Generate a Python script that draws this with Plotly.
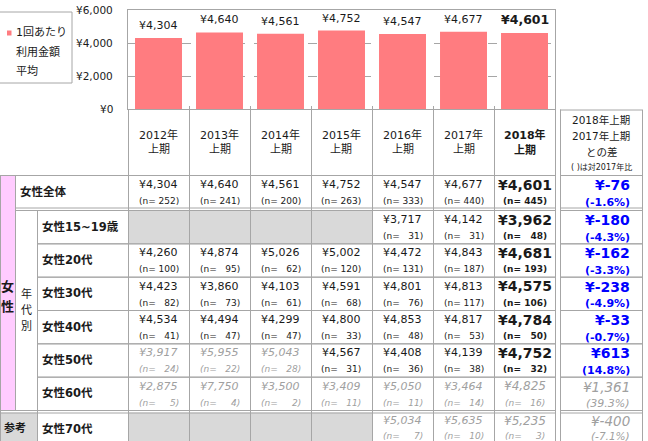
import plotly.graph_objects as go

# ---------------- data ----------------
periods = ["2012年", "2013年", "2014年", "2015年", "2016年", "2017年", "2018年"]
half_label = "上期"
avg_all = [4304, 4640, 4561, 4752, 4547, 4677, 4601]
yticks = [0, 2000, 4000, 6000]
legend_lines = ["1回あたり", "利用金額", "平均"]

row_labels = ["女性全体", "女性15~19歳", "女性20代", "女性30代", "女性40代",
              "女性50代", "女性60代", "女性70代"]

n_all = [252, 241, 200, 263, 333, 440, 445]
val_15_19 = [None, None, None, None, 3717, 4142, 3962]
n_15_19 = [None, None, None, None, 31, 31, 48]
val_20s = [4260, 4874, 5026, 5002, 4472, 4843, 4681]
n_20s = [100, 95, 62, 120, 131, 187, 193]
val_30s = [4423, 3860, 4103, 4591, 4801, 4813, 4575]
n_30s = [82, 73, 61, 68, 76, 117, 106]
val_40s = [4534, 4494, 4299, 4800, 4853, 4817, 4784]
n_40s = [41, 47, 47, 33, 48, 53, 50]
val_50s = [3917, 5955, 5043, 4567, 4408, 4139, 4752]
n_50s = [24, 22, 28, 31, 36, 38, 32]
val_60s = [2875, 7750, 3500, 3409, 5050, 3464, 4825]
n_60s = [5, 4, 2, 11, 11, 14, 16]
val_70s = [None, None, None, None, 5034, 5635, 5235]
n_70s = [None, None, None, None, 7, 10, 3]

diff_yen = [-76, -180, -162, -238, -33, 613, 1361, -400]
diff_pct = [-1.6, -4.3, -3.3, -4.9, -0.7, 14.8, 39.3, -7.1]
diff_header = ["2018年上期", "2017年上期", "との差"]
diff_note = "( )は対2017年比"
small_sample = 30  # n below this is shown in grey italics

rows_values = [avg_all, val_15_19, val_20s, val_30s, val_40s, val_50s, val_60s, val_70s]
rows_n = [n_all, n_15_19, n_20s, n_30s, n_40s, n_50s, n_60s, n_70s]

# ---------------- layout helpers ----------------
W, H = 648, 441
FONT = "DejaVu Sans, Noto Sans CJK JP, sans-serif"
LC = "#A6A6A6"
BAR = "#FF7C80"
BLACK = "#1a1a1a"
GREY = "#A0A0A0"
BLUE = "#0000FF"
PINK = "#FFCCFF"
FILLG = "#D9D9D9"


def X(px):
    return px / W


def Y(py):
    return 1 - py / H


COL_X0, COL_W, NCOL = 128, 61, 7
col_edges = [COL_X0 + i * COL_W for i in range(NCOL + 1)]
TABLE_R = col_edges[-1]
DIFF_L, DIFF_R = 560, 642
PLOT_TOP, HEAD_TOP, HEAD_BOT = 10, 109, 175
rh = (410 - 210) / 6
rows = [(175, 207.5)] + [(210 + k * rh, 210 + (k + 1) * rh) for k in range(6)] + [(412.5, 446)]

shapes = []
ann = []


def rect(x0, y0, x1, y1, fill, line=None):
    shapes.append(dict(type="rect", xref="paper", yref="paper", x0=X(x0), x1=X(x1),
                       y0=Y(y1), y1=Y(y0), fillcolor=fill, layer="below",
                       line=dict(width=1 if line else 0, color=line or fill)))


def hline(py, x0, x1):
    shapes.append(dict(type="line", xref="paper", yref="paper", x0=X(x0), x1=X(x1),
                       y0=Y(py + 0.5), y1=Y(py + 0.5), line=dict(color=LC, width=1)))


def vline(px, y0, y1):
    shapes.append(dict(type="line", xref="paper", yref="paper", x0=X(px + 0.5), x1=X(px + 0.5),
                       y0=Y(y0), y1=Y(y1), line=dict(color=LC, width=1)))


def text(px, py, s, size, color=BLACK, bold=False, italic=False, xanchor="center"):
    if bold:
        s = f"<b>{s}</b>"
    if italic:
        s = f"<i>{s}</i>"
    ann.append(dict(x=X(px), y=Y(py), xref="paper", yref="paper", text=s, showarrow=False,
                    xanchor=xanchor, yanchor="middle",
                    font=dict(size=size, color=color, family=FONT)))


def yen(v):
    return f"¥{v:,}"


def ntext(n):
    return "(n=\u00a0" + str(n).rjust(3, "\u2007") + ")"


# ---------------- figure / bars ----------------
fig = go.Figure(go.Bar(x=periods, y=avg_all, marker=dict(color=BAR, line=dict(width=0)),
                       hoverinfo="skip", showlegend=False))

# bar value labels
for i, (p, v) in enumerate(zip(periods, avg_all)):
    last = i == len(periods) - 1
    s = f"<b>{yen(v)}</b>" if last else yen(v)
    ann.append(dict(x=p, y=v, xref="x", yref="y", text=s, showarrow=False,
                    yanchor="bottom", yshift=4,
                    font=dict(size=12.5 if last else 11, color=BLACK, family=FONT)))

# y tick labels
for t in yticks:
    ann.append(dict(x=X(115), y=t, xref="paper", yref="y", text=yen(t), showarrow=False,
                    xanchor="right", yanchor="middle",
                    font=dict(size=10.5, color=BLACK, family=FONT)))

# legend
rect(-1, 12, 72, 83, "#FFFFFF", LC)
rect(7, 30.5, 11.5, 35.5, BAR)
for k, s in enumerate(legend_lines):
    text(14, 33 + k * 19, s, 11, xanchor="left")

# ---------------- table ----------------
# fills
rect(0, rows[0][0], 15, rows[6][1], PINK)
rect(0, rows[7][0], 37, rows[7][1], FILLG)
for r, vals in enumerate(rows_values):
    for c, v in enumerate(vals):
        if v is None:
            rect(col_edges[c], rows[r][0], col_edges[c + 1], rows[r][1], FILLG)

# header
for c, p in enumerate(periods):
    cx = (col_edges[c] + col_edges[c + 1]) / 2
    last = c == NCOL - 1
    text(cx, 135, p, 11, bold=last)
    text(cx, 150, half_label, 11, bold=last)
dcx = (DIFF_L + DIFF_R) / 2
for k, s in enumerate(diff_header):
    text(dcx, 120 + k * 16, s, 10.5)
text(dcx, 166.5, diff_note, 8)

# left labels
text(7.5, 286, "女", 13, bold=True)
text(7.5, 306, "性", 13, bold=True)
for k, s in enumerate("年代別"):
    text(26, 294 + k * 16, s, 11)
text(15, (rows[7][0] + rows[7][1]) / 2 - 1.5, "参考", 11, bold=True)

for r, lab in enumerate(row_labels):
    top, bot = rows[r]
    edge = r == len(row_labels) - 1          # bottom row is clipped by the frame
    vy = top + (8 if edge else 9.5)
    ny = top + (23 if edge else 26)
    text(18 if r == 0 else 40, top + 16.5, lab, 11.5, bold=True, xanchor="left")
    for c in range(NCOL):
        v = rows_values[r][c]
        n = rows_n[r][c]
        if v is None:
            continue
        cx = (col_edges[c] + col_edges[c + 1]) / 2
        last = c == NCOL - 1
        if n < small_sample:
            text(cx, vy, yen(v), 12 if last else 11, GREY, italic=True)
            text(cx, ny, ntext(n), 9, GREY, italic=True)
        elif last:
            text(cx, vy, yen(v), 14, bold=True)
            text(cx, ny, ntext(n), 9, bold=True)
        else:
            text(cx, vy, yen(v), 11)
            text(cx, ny, ntext(n), 9)
    # difference column
    grey = rows_n[r][5] < small_sample or rows_n[r][6] < small_sample
    d_s = "¥" + f"{diff_yen[r]:,}"
    p_s = f"({diff_pct[r]:.1f}%)"
    dy = top + (8.5 if edge else 10)
    py_ = top + (23 if edge else 27)
    if grey:
        text(632, dy, d_s, 13.5, GREY, italic=True, xanchor="right")
        text(632, py_, p_s, 10.5 if edge else 11, GREY, italic=True, xanchor="right")
    else:
        text(632, dy, d_s, 14, BLUE, bold=True, xanchor="right")
        text(632, py_, p_s, 11, BLUE, bold=True, xanchor="right")

# table lines
hline(HEAD_BOT, 0, TABLE_R)
hline(HEAD_BOT, DIFF_L, DIFF_R)
hline(109.5, DIFF_L, DIFF_R)
for r in range(8):
    top, bot = rows[r]
    x0 = 0 if r in (0, 7) else (15 if r == 1 else 37)
    if r > 0:
        hline(top, x0, TABLE_R)
        hline(top, DIFF_L, DIFF_R)
    xb = 15 if r == 0 else (0 if r == 6 else 37)
    if r < 7:
        hline(bot, xb, TABLE_R)
        hline(bot, DIFF_L, DIFF_R)
vline(0, HEAD_BOT, H)
vline(15, HEAD_BOT, rows[6][1])
vline(37, rows[1][0], H)
for e in col_edges:
    vline(e, HEAD_TOP, H)
vline(DIFF_L, 109.5, H)
vline(DIFF_R, 109.5, H)

fig.update_layout(
    width=W, height=H, margin=dict(l=0, r=0, t=0, b=0),
    paper_bgcolor="white", plot_bgcolor="white",
    bargap=0.23, showlegend=False,
    font=dict(family=FONT, color=BLACK),
    xaxis=dict(domain=[X(COL_X0), X(TABLE_R)], showticklabels=False, showgrid=False,
               showline=True, mirror=True, linecolor=LC, linewidth=1,
               ticks="inside", tickson="boundaries", ticklen=3, tickcolor=LC,
               fixedrange=True),
    yaxis=dict(domain=[Y(HEAD_TOP), Y(PLOT_TOP)], range=[0, 6000], tickvals=yticks,
               showticklabels=False, showgrid=True, gridcolor=LC, griddash="dash",
               gridwidth=1, showline=True, mirror=True, linecolor=LC, linewidth=1,
               zeroline=False, ticks="", fixedrange=True),
    shapes=shapes, annotations=ann,
)

fig.write_html("out.html", config={"displayModeBar": False},
               post_script="document.body.style.margin='0';document.body.style.overflow='hidden';")
